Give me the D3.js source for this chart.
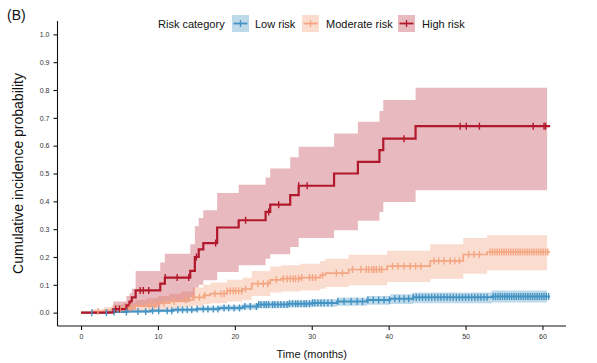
<!DOCTYPE html>
<html lang="en">
<head>
<meta charset="UTF-8">
<title>Cumulative incidence by risk category</title>
<script src="https://cdnjs.cloudflare.com/ajax/libs/d3/7.8.5/d3.min.js"></script>
<style>
    body { margin: 0; background: #fff; }
    text { font-family: "Liberation Sans", Arial, sans-serif; fill: #111; }
    .axis path, .axis line { stroke: #111; stroke-width: 1.1px; }
    .axis text { font-size: 7px; fill: #333; }
</style>
</head>
<body>
<div id="chart"></div>
<script>
    // ---- data ----
    // low risk: step times, estimate, CI lower, CI upper
    var lowT  = [0, 3.5, 6, 9, 12, 15, 18, 21, 23, 27, 30, 33.3, 37.2, 40.2, 43.2, 53.4];
    var lowP  = [0, 0.002, 0.004, 0.007, 0.010, 0.013, 0.017, 0.022, 0.029, 0.032, 0.035, 0.040, 0.045, 0.050, 0.055, 0.058];
    var lowLo = [0, 0, 0, 0.001, 0.003, 0.005, 0.008, 0.011, 0.016, 0.019, 0.021, 0.025, 0.028, 0.031, 0.034, 0.036];
    var lowHi = [0, 0.006, 0.010, 0.014, 0.018, 0.022, 0.027, 0.032, 0.040, 0.044, 0.048, 0.054, 0.060, 0.066, 0.072, 0.080];
    var lowCens = [1.4, 3.3, 4.3, 5.9, 7.4, 8.4, 9.3, 10.1, 11.2, 11.8, 12.6, 13.2, 13.8, 14.4, 15.1, 15.9, 16.5, 17.2,
        17.8, 18.6, 19.2, 19.9, 20.6, 21.3, 22.0, 22.8, 23.1, 23.4, 23.8, 24.1, 24.4, 24.9, 25.2, 25.6, 26.0, 26.4,
        26.8, 27.1, 27.5, 27.9, 28.2, 28.6, 29.0, 29.3, 29.7, 30.1, 30.4, 30.8, 31.2, 31.6, 32.1, 32.6, 33.4, 34.2,
        35.1, 35.9, 36.6, 37.3, 38.0, 38.7, 39.4, 40.1, 40.8, 41.4, 42.0, 42.6, 43.2, 43.6, 44.0, 44.4, 44.8, 45.2,
        45.6, 46.0, 46.4, 46.8, 47.2, 47.6, 48.0, 48.4, 48.8, 49.2, 49.6, 50.0, 50.4, 50.8, 51.2, 51.6, 52.0, 52.4,
        52.8, 53.6, 53.9, 54.2, 54.5, 54.8, 55.1, 55.4, 55.7, 56.0, 56.3, 56.6, 56.9, 57.2, 57.5, 57.8, 58.1, 58.4,
        58.7, 59.0, 59.3, 59.6, 59.9, 60.2, 60.5, 60.8];

    // moderate risk
    var modT  = [0, 1.5, 3, 4, 5.5, 7, 8.5, 10, 11.5, 13, 14.5, 15.9, 16.8, 19, 21, 22.2, 24.6, 26, 28.5, 31.1, 31.8, 34.8, 39.8, 45.4, 49.7, 52.8];
    var modP  = [0, 0.004, 0.008, 0.013, 0.018, 0.024, 0.028, 0.034, 0.040, 0.046, 0.055, 0.062, 0.068, 0.078, 0.085, 0.104, 0.118, 0.122, 0.126, 0.135, 0.142, 0.155, 0.167, 0.186, 0.209, 0.218];
    var modLo = [0, 0, 0, 0.001, 0.003, 0.006, 0.008, 0.012, 0.016, 0.020, 0.025, 0.030, 0.034, 0.040, 0.045, 0.060, 0.072, 0.076, 0.080, 0.086, 0.092, 0.098, 0.110, 0.122, 0.140, 0.152];
    var modHi = [0, 0.012, 0.020, 0.028, 0.035, 0.045, 0.052, 0.060, 0.068, 0.076, 0.090, 0.100, 0.108, 0.118, 0.125, 0.150, 0.166, 0.170, 0.176, 0.186, 0.194, 0.208, 0.222, 0.246, 0.268, 0.278];
    var modCens = [2.2, 5.1, 6.4, 8.9, 9.6, 10.8, 12.1, 13.6, 14.7, 15.4, 16.1, 17.4, 18.2, 18.6, 19.0, 19.4, 19.8, 20.1,
        20.5, 20.9, 21.4, 23.0, 23.7, 24.3, 25.4, 26.3, 26.8, 27.2, 27.6, 27.9, 28.3, 28.7, 29.7, 30.1, 30.5, 31.4,
        33.2, 34.0, 35.3, 36.4, 37.1, 37.4, 37.8, 38.1, 38.4, 38.8, 39.1, 40.5, 41.2, 42.0, 42.8, 43.5, 44.2, 45.9,
        46.5, 47.2, 48.0, 48.6, 49.2, 50.4, 51.1, 51.8, 53.2, 53.5, 53.8, 54.1, 54.4, 54.7, 55.0, 55.3, 55.6, 55.9,
        56.2, 56.5, 56.8, 57.1, 57.4, 57.7, 58.0, 58.3, 58.6, 58.9, 59.2, 59.5, 59.8, 60.1, 60.4, 60.7];

    // high risk
    var highT  = [0, 4.2, 5.9, 6.3, 6.6, 7.1, 10.3, 10.9, 14.2, 14.8, 15.3, 15.9, 17.7, 20.5, 24.0, 24.6, 27.2, 28.3, 32.9, 36.0, 38.8, 39.3, 43.5];
    var highP  = [0, 0.013, 0.026, 0.040, 0.055, 0.080, 0.104, 0.126, 0.150, 0.200, 0.227, 0.250, 0.306, 0.332, 0.362, 0.388, 0.422, 0.456, 0.500, 0.542, 0.584, 0.625, 0.670];
    var highLo = [0, 0, 0, 0.005, 0.010, 0.020, 0.030, 0.038, 0.055, 0.090, 0.100, 0.116, 0.146, 0.170, 0.194, 0.210, 0.236, 0.268, 0.296, 0.330, 0.362, 0.398, 0.440];
    var highHi = [0, 0.040, 0.060, 0.070, 0.086, 0.150, 0.180, 0.212, 0.246, 0.310, 0.340, 0.368, 0.430, 0.460, 0.486, 0.518, 0.558, 0.596, 0.644, 0.686, 0.725, 0.764, 0.808];
    var highCens = [4.5, 5.0, 7.7, 8.1, 8.8, 10.95, 12.5, 14.0, 15.0, 17.5, 21.4, 24.4, 25.7, 28.3, 29.4, 42.0, 49.3, 50.1, 51.8, 58.8, 60.2, 60.4];

    var lineEnd = 61.0;   // last follow-up time
    var bandEnd = 60.6;

    var categories = ["Low risk", "Moderate risk", "High risk"];
    var colors = ["#4393c3", "#f4a582", "#b2182b"];
    var xTicks = [0, 10, 20, 30, 40, 50, 60];
    var yTicks = [0, 0.1, 0.2, 0.3, 0.4, 0.5, 0.6, 0.7, 0.8, 0.9, 1.0];

    // ---- layout ----
    var W = 597, H = 363;
    var margin = {left: 57.5, right: 31, top: 21, bottom: 37};

    var svg = d3.select("#chart").append("svg")
        .attr("width", W)
        .attr("height", H);

    var x = d3.scaleLinear().domain([-3.06, 63.06]).range([margin.left, W - margin.right]);
    var y = d3.scaleLinear().domain([-0.048, 1.048]).range([H - margin.bottom, margin.top]);

    function build(T, P, Lo, Hi) {
        return T.map(function(t, i) { return {t: t, p: P[i], lo: Lo[i], hi: Hi[i]}; });
    }
    var series = [
        {rows: build(lowT, lowP, lowLo, lowHi), cens: lowCens, color: colors[0], fillOp: 0.35, lw: 2},
        {rows: build(modT, modP, modLo, modHi), cens: modCens, color: colors[1], fillOp: 0.38, lw: 1.7},
        {rows: build(highT, highP, highLo, highHi), cens: highCens, color: colors[2], fillOp: 0.3, lw: 2.2}
    ];

    function valueAt(rows, t) {
        var v = 0;
        rows.forEach(function(r) { if (r.t <= t) v = r.p; });
        return v;
    }

    var area = d3.area()
        .curve(d3.curveStepAfter)
        .x(function(d) { return x(d.t); })
        .y0(function(d) { return y(d.lo); })
        .y1(function(d) { return y(d.hi); });

    var line = d3.line()
        .curve(d3.curveStepAfter)
        .x(function(d) { return x(d.t); })
        .y(function(d) { return y(d.p); });

    // bands
    series.forEach(function(s) {
        var last = s.rows[s.rows.length - 1];
        var pts = s.rows.concat([{t: bandEnd, p: last.p, lo: last.lo, hi: last.hi}]);
        svg.append("path")
            .datum(pts)
            .attr("d", area)
            .attr("fill", s.color)
            .attr("fill-opacity", s.fillOp);
    });

    // step lines
    series.forEach(function(s) {
        var last = s.rows[s.rows.length - 1];
        var pts = s.rows.concat([{t: lineEnd, p: last.p}]);
        svg.append("path")
            .datum(pts)
            .attr("d", line)
            .attr("fill", "none")
            .attr("stroke", s.color)
            .attr("stroke-width", s.lw);
    });

    // censor marks
    series.forEach(function(s) {
        svg.append("g").selectAll("line")
            .data(s.cens)
            .enter().append("line")
            .attr("x1", function(d) { return x(d); })
            .attr("x2", function(d) { return x(d); })
            .attr("y1", function(d) { return y(valueAt(s.rows, d)) - 3.5; })
            .attr("y2", function(d) { return y(valueAt(s.rows, d)) + 3.5; })
            .attr("stroke", s.color)
            .attr("stroke-width", 1.4);
    });

    // axes
    svg.append("g")
        .attr("class", "axis")
        .attr("transform", "translate(0," + (H - margin.bottom) + ")")
        .call(d3.axisBottom(x).tickValues(xTicks).tickSize(4).tickPadding(4).tickSizeOuter(0))
        .call(function(g) { g.select(".domain").attr("d", "M" + x.range()[0] + ",0H" + x.range()[1]); });

    svg.append("g")
        .attr("class", "axis")
        .attr("transform", "translate(" + margin.left + ",0)")
        .call(d3.axisLeft(y).tickValues(yTicks).tickFormat(d3.format(".1f")).tickSize(4).tickPadding(4).tickSizeOuter(0))
        .call(function(g) { g.select(".domain").attr("d", "M0," + y.range()[0] + "V" + y.range()[1]); });

    // axis titles
    svg.append("text")
        .attr("x", (x.range()[0] + x.range()[1]) / 2)
        .attr("y", 358)
        .attr("text-anchor", "middle")
        .style("font-size", "11px")
        .text("Time (months)");

    svg.append("text")
        .attr("transform", "translate(23," + ((y.range()[0] + y.range()[1]) / 2) + ") rotate(-90)")
        .attr("text-anchor", "middle")
        .style("font-size", "14px")
        .text("Cumulative incidence probability");

    svg.append("text")
        .attr("x", 7)
        .attr("y", 20)
        .style("font-size", "14px")
        .text("(B)");

    // legend
    var legend = svg.append("g");
    legend.append("text")
        .attr("x", 158)
        .attr("y", 28)
        .style("font-size", "11px")
        .text("Risk category");

    var keyX = [232, 302, 398];
    var textX = [255, 326, 422];
    categories.forEach(function(c, i) {
        var g = legend.append("g").attr("transform", "translate(" + keyX[i] + ",15)");
        g.append("rect")
            .attr("width", 17).attr("height", 17)
            .attr("fill", colors[i])
            .attr("fill-opacity", series[i].fillOp);
        g.append("line")
            .attr("x1", 1.5).attr("x2", 15.5).attr("y1", 8.5).attr("y2", 8.5)
            .attr("stroke", colors[i]).attr("stroke-width", 1.8);
        g.append("line")
            .attr("x1", 8.5).attr("x2", 8.5).attr("y1", 5).attr("y2", 12)
            .attr("stroke", colors[i]).attr("stroke-width", 1.3);
        legend.append("text")
            .attr("x", textX[i])
            .attr("y", 28)
            .style("font-size", "11px")
            .text(c);
    });
</script>
</body>
</html>
